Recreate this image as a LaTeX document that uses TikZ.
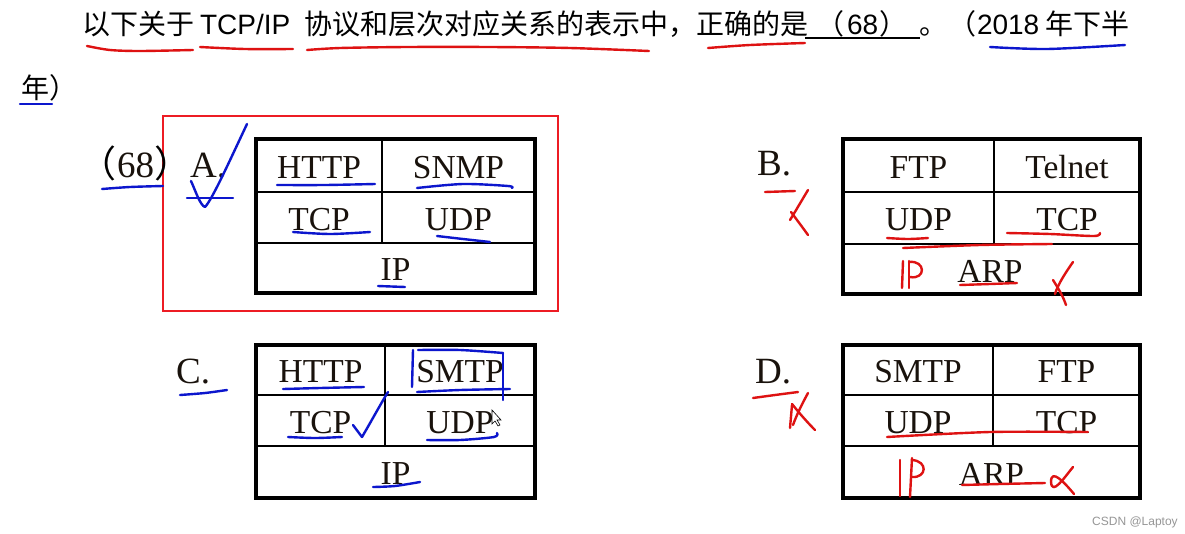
\documentclass[tikz,border=0pt]{standalone}
\usepackage{fontspec}
\setmainfont{Liberation Serif}
\newfontfamily\cjk{Noto Sans CJK SC}
\newfontfamily\hsans{Liberation Sans}
\definecolor{penred}{RGB}{222,18,18}
\definecolor{penblue}{RGB}{12,22,205}
\definecolor{boxred}{RGB}{237,28,36}
\definecolor{wmgray}{RGB}{150,150,150}
\definecolor{inkc}{RGB}{25,18,12}
\newcommand\headcjk{\cjk\fontsize{28}{34}\selectfont}
\newcommand\headlat{\hsans\fontsize{28}{34}\selectfont}
\newcommand\celltxt{\rmfamily\fontsize{33.5}{40}\selectfont}
\newcommand\labtxt{\rmfamily\fontsize{37}{44}\selectfont}
\newcommand\labcjk{\cjk\fontsize{37}{44}\selectfont}
\begin{document}
\begin{tikzpicture}[x=1pt,y=-1pt,
  hd/.style={anchor=base west,inner sep=0pt,outer sep=0pt},
  cell/.style={inner sep=0pt,font=\celltxt,text=inkc,yshift=-2pt},
  lab/.style={anchor=base west,inner sep=0pt,font=\labtxt,text=inkc},
  hw/.style={line width=2.4pt,line cap=round,line join=round},
  redpen/.style={hw,draw=penred},
  bluepen/.style={hw,draw=penblue},
  outerframe/.style={line width=3.6pt,line join=miter},
  innerline/.style={line width=2.6pt}]
\useasboundingbox (0,0) rectangle (1185,533);
\fill[white] (0,0) rectangle (1185,533);

% ---------- heading ----------
\node[hd,font=\headcjk] (h1) at (82,34) {以下关于};
\node[hd,font=\headlat] (h2) at (200,34) {TCP/IP};
\node[hd,font=\headcjk] (h3) at (304,34) {协议和层次对应关系的表示中，正确的是};
\node[anchor=base east,inner sep=0pt,font=\headcjk] (h4) at (845,34) {（};
\node[hd,font=\headlat] (h5) at (847,34) {68};
\node[hd,font=\headcjk] (h6) at (879,34) {）};
\node[hd,font=\headcjk] (h7) at (919,34) {。};
\node[anchor=base east,inner sep=0pt,font=\headcjk] (h8) at (977,34) {（};
\node[hd,font=\headlat] (h9) at (977,34) {2018};
\node[hd,font=\headcjk] (h10) at (1045,34) {年下半};
\node[hd,font=\headcjk] (h11) at (21,98) {年）};
\draw[line width=2pt] (805,38) -- (920,38);

% heading pen marks
\draw[redpen] plot[smooth] coordinates {(87,46) (110,50) (140,51) (193,50)};
\draw[redpen] plot[smooth] coordinates {(200,47) (245,49) (293,49)};
\draw[redpen] plot[smooth] coordinates {(307,50) (340,48) (407,47) (490,47) (570,48) (649,51)};
\draw[redpen] plot[smooth] coordinates {(708,48) (750,45) (805,43)};
\draw[bluepen] plot[smooth] coordinates {(990,47) (1047,49) (1125,45)};
\draw[bluepen] (20,104) -- (52,104);

% ---------- option A ----------
\draw[boxred,line width=2pt] (163,116) rectangle (558,311);
\node[anchor=base east,inner sep=0pt,font=\labcjk] (la1) at (117,177) {（};
\node[lab] (la2) at (117,177) {68};
\node[anchor=base west,inner sep=0pt,font=\labcjk] (la3) at (154,177) {）};
\node[lab] (la4) at (190,177) {A.};
\draw[outerframe] (256,139) rectangle (535,293);
\draw[innerline] (256,192) -- (535,192);
\draw[innerline] (256,243) -- (535,243);
\draw[innerline] (382,139) -- (382,243);
\node[cell] (a1) at (319,165.5) {HTTP};
\node[cell] (a2) at (458.5,165.5) {SNMP};
\node[cell] (a3) at (319,217.5) {TCP};
\node[cell] (a4) at (458.5,217.5) {UDP};
\node[cell] (a5) at (395.5,268) {IP};
% pen marks A
\draw[bluepen] plot[smooth] coordinates {(102,189) (130,187) (163,186)};
\draw[bluepen] (191,181) .. controls (196,192) and (200,205) .. (205,207) .. controls (212,200) and (230,160) .. (247,124);
\draw[bluepen] (187,198) -- (233,198);
\draw[bluepen] plot[smooth] coordinates {(277,185) (325,185) (375,184)};
\draw[bluepen] plot[smooth] coordinates {(417,188) (463,184) (508,186) (512,188)};
\draw[bluepen] plot[smooth] coordinates {(293,232) (330,234) (370,232)};
\draw[bluepen] plot[smooth] coordinates {(437,236) (463,239) (490,242)};
\draw[bluepen] (378,286) -- (405,287);

% ---------- option B ----------
\node[lab] (lb) at (757,175) {B.};
\draw[outerframe] (843,139) rectangle (1140,294);
\draw[innerline] (843,192) -- (1140,192);
\draw[innerline] (843,244) -- (1140,244);
\draw[innerline] (994,139) -- (994,244);
\node[cell] (b1) at (918.5,165.5) {FTP};
\node[cell] (b2) at (1067,165.5) {Telnet};
\node[cell] (b3) at (918.5,218) {UDP};
\node[cell] (b4) at (1067,218) {TCP};
\node[cell] (b5) at (990,269) {ARP};
% pen marks B
\draw[redpen] (765,192) -- (795,191);
\draw[redpen] (808,190) .. controls (802,200) and (795,212) .. (790,220);
\draw[redpen] (791,212) .. controls (797,220) and (803,228) .. (808,235);
\draw[redpen] plot[smooth] coordinates {(887,238) (908,239) (928,238)};
\draw[redpen] plot[smooth] coordinates {(1007,233) (1050,234) (1094,236) (1100,233)};
\draw[redpen] plot[smooth] coordinates {(903,248) (980,245) (1052,244)};
\draw[redpen] (903,261) -- (902,288);
\draw[redpen] (909,261) -- (909,288);
\draw[redpen] (909,262) .. controls (926,260) and (926,280) .. (910,277);
\draw[redpen] plot[smooth] coordinates {(960,285) (990,284) (1017,283)};
\draw[redpen] (1073,262) .. controls (1066,272) and (1058,284) .. (1055,294);
\draw[redpen] (1053,280) .. controls (1058,288) and (1063,296) .. (1066,305);

% ---------- option C ----------
\node[lab] (lc) at (176,383) {C.};
\draw[outerframe] (256,345) rectangle (535,498);
\draw[innerline] (256,395) -- (535,395);
\draw[innerline] (256,446) -- (535,446);
\draw[innerline] (385,345) -- (385,446);
\node[cell] (c1) at (320.5,370) {HTTP};
\node[cell] (c2) at (460,370) {SMTP};
\node[cell] (c3) at (320.5,420.5) {TCP};
\node[cell] (c4) at (460,420.5) {UDP};
\node[cell] (c5) at (395.5,472) {IP};
% pen marks C
\draw[bluepen] plot[smooth] coordinates {(180,395) (205,393) (227,390)};
\draw[bluepen] plot[smooth] coordinates {(283,389) (320,388) (364,387)};
\draw[bluepen] (413,350) -- (412,387);
\draw[bluepen] plot[smooth] coordinates {(418,350) (460,350) (503,353)};
\draw[bluepen] (503,353) -- (503,400);
\draw[bluepen] plot[smooth] coordinates {(417,392) (460,390) (510,389)};
\draw[bluepen] plot[smooth] coordinates {(288,437) (315,438) (342,437)};
\draw[bluepen] (353,425) -- (362,437) .. controls (372,420) and (380,405) .. (388,392);
\draw[bluepen] plot[smooth] coordinates {(427,440) (460,440) (494,437) (497,433)};
\draw[bluepen] plot[smooth] coordinates {(373,487) (395,486) (420,482)};
\draw[line width=0.6pt,fill=white] (492,410) -- (492,424) -- (495,421) -- (498,426) -- (500,425) -- (497,420) -- (501,420) -- cycle;

% ---------- option D ----------
\node[lab] (ld) at (755,383) {D.};
\draw[outerframe] (843,345) rectangle (1140,498);
\draw[innerline] (843,395) -- (1140,395);
\draw[innerline] (843,446) -- (1140,446);
\draw[innerline] (993,345) -- (993,446);
\node[cell] (d1) at (918,370) {SMTP};
\node[cell] (d2) at (1066.5,370) {FTP};
\node[cell] (d3) at (918,420.5) {UDP};
\node[cell] (d4) at (1066.5,420.5) {TCP};
\node[cell] (d5) at (991.5,472) {ARP};
% pen marks D
\draw[redpen] plot[smooth] coordinates {(753,398) (775,395) (798,392)};
\draw[redpen] (792,405) -- (790,428);
\draw[redpen] (792,404) .. controls (800,414) and (808,423) .. (815,430);
\draw[redpen] (808,393) .. controls (802,404) and (797,414) .. (793,425);
\draw[redpen] plot[smooth] coordinates {(887,437) (990,432) (1088,432)};
\draw[redpen] (900,460) -- (900,496);
\draw[redpen] (912,458) -- (910,497);
\draw[redpen] (912,460) .. controls (928,461) and (927,478) .. (912,477);
\draw[redpen] plot[smooth] coordinates {(962,485) (1000,484) (1045,483)};
\draw[redpen] (1073,467) .. controls (1064,478) and (1052,496) .. (1051,482) .. controls (1051,468) and (1064,482) .. (1074,494);

% watermark
\node[anchor=base west,inner sep=0pt,font=\hsans\fontsize{12}{14}\selectfont,text=wmgray] (wm) at (1092,525) {CSDN @Laptoy};
\end{tikzpicture}
\end{document}
